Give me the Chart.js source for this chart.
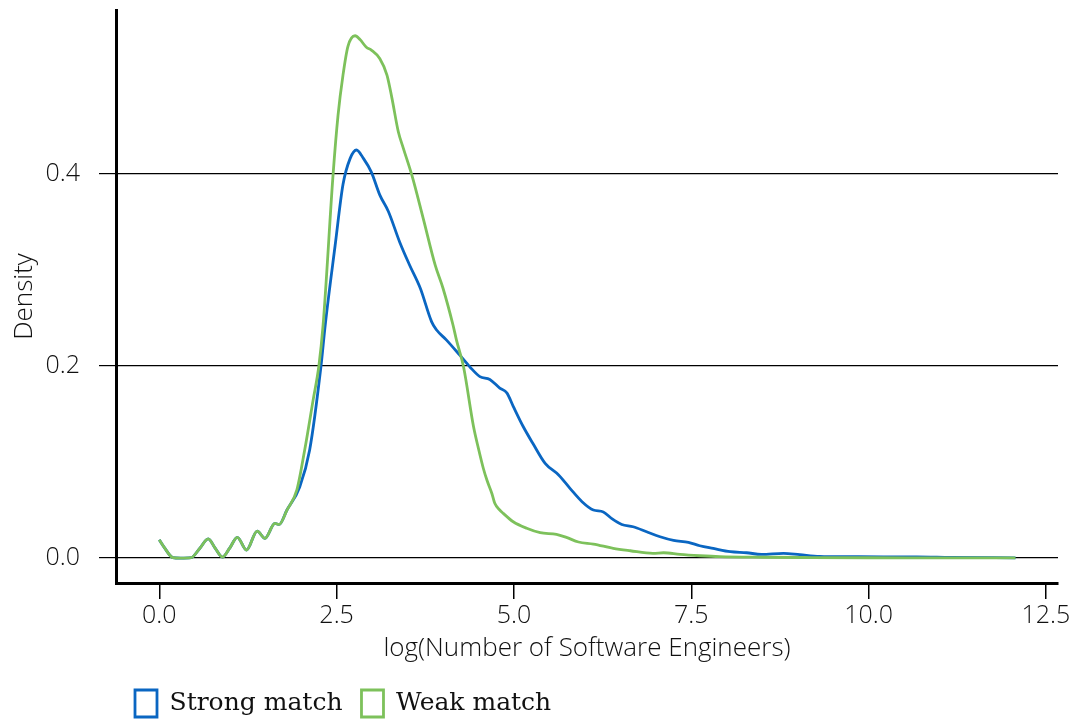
<!DOCTYPE html>
<html>
<head>
<meta charset="utf-8">
<script src="https://cdn.jsdelivr.net/npm/chart.js@4.4.1/dist/chart.umd.min.js"></script>
<style>
  html, body { margin: 0; padding: 0; background: #fff; }
  #wrap { width: 1083px; height: 727px; }
</style>
</head>
<body>
<div id="wrap"><canvas id="c" width="1083" height="727"></canvas></div>
<script>
// Kernel density of log(number of software engineers), by match strength
const strongX = [0.00, 0.08, 0.19, 0.30, 0.45, 0.57, 0.69, 0.79, 0.89, 0.99, 1.10, 1.23, 1.38, 1.49, 1.63, 1.69, 1.80,
  1.98, 2.12, 2.28, 2.34, 2.48, 2.59, 2.69, 2.78, 2.88, 2.99, 3.11, 3.23, 3.39, 3.53, 3.68, 3.84, 3.91, 4.05, 4.24,
  4.38, 4.52, 4.66, 4.80, 4.90, 4.99, 5.13, 5.27, 5.44, 5.63, 5.79, 5.96, 6.12, 6.26, 6.38, 6.52, 6.68, 6.87, 7.06,
  7.25, 7.46, 7.62, 7.81, 8.05, 8.28, 8.49, 8.80, 9.03, 9.31, 9.74, 10.21, 10.68, 11.15, 12.07];
const strongY = [0.019, 0.010, 0.0005, 0.0, 0.0005, 0.010, 0.020, 0.010, 0.001, 0.010, 0.0215, 0.0083, 0.028, 0.0205, 0.036, 0.035, 0.050,
  0.074, 0.1125, 0.200, 0.243, 0.326, 0.389, 0.416, 0.425, 0.416, 0.402, 0.378, 0.361, 0.329, 0.305, 0.281, 0.246, 0.2375, 0.227, 0.211,
  0.199, 0.189, 0.186, 0.177, 0.172, 0.158, 0.137, 0.119, 0.0986, 0.0865, 0.0726, 0.0587, 0.050, 0.048, 0.041, 0.035, 0.0326, 0.0274, 0.0222,
  0.0184, 0.0163, 0.0128, 0.010, 0.0066, 0.0055, 0.0038, 0.0049, 0.0035, 0.0018, 0.0014, 0.0012, 0.0012, 0.0007, 0.0002];

const weakX = [0.00, 0.08, 0.19, 0.30, 0.45, 0.57, 0.69, 0.79, 0.89, 0.99, 1.10, 1.23, 1.38, 1.49, 1.63, 1.69, 1.80,
  1.94, 2.05, 2.17, 2.25, 2.31, 2.45, 2.52, 2.59, 2.66, 2.76, 2.83, 2.92, 2.99, 3.11, 3.21, 3.28, 3.37, 3.44, 3.56,
  3.72, 3.89, 4.00, 4.14, 4.19, 4.29, 4.43, 4.50, 4.57, 4.62, 4.69, 4.73, 4.80, 4.85, 4.99, 5.18, 5.37, 5.60, 5.74,
  5.91, 6.12, 6.40, 6.64, 6.96, 7.11, 7.34, 7.62, 7.90, 8.50, 9.20, 10.00, 11.00, 12.07];
const weakY = [0.019, 0.010, 0.0005, 0.0, 0.0005, 0.010, 0.020, 0.010, 0.001, 0.010, 0.0215, 0.0083, 0.028, 0.0205, 0.036, 0.035, 0.050,
  0.071, 0.1125, 0.165, 0.200, 0.243, 0.399, 0.461, 0.503, 0.533, 0.544, 0.540, 0.532, 0.529, 0.520, 0.503, 0.479, 0.444, 0.427, 0.399,
  0.354, 0.305, 0.281, 0.243, 0.227, 0.199, 0.137, 0.114, 0.093, 0.081, 0.067, 0.057, 0.050, 0.0465, 0.0378, 0.031, 0.0264, 0.0247, 0.0215,
  0.0167, 0.0146, 0.0101, 0.0076, 0.0049, 0.0055, 0.0038, 0.0024, 0.0014, 0.0008, 0.0005, 0.0003, 0.0002, 0.0001];

const seriesNames = ['Strong match', 'Weak match'];
const seriesColors = ['#0a66c2', '#7dc15b'];
const xTicks = [0, 2.5, 5, 7.5, 10, 12.5];
const yTicks = [0, 0.2, 0.4];

const toPoints = (xs, ys) => xs.map((x, i) => ({ x: x, y: ys[i] }));

const sansFamily = "'Open Sans', 'DejaVu Sans', sans-serif";
const tickFont = { family: sansFamily, size: 25, weight: '300' };
const titleFont = { family: sansFamily, size: 26, weight: '300' };
const textColor = '#111';

// keep the plot box fixed: no extra room for edge tick labels
const noEdgePadding = (scale) => {
  scale.paddingTop = 0; scale.paddingBottom = 0;
  scale.paddingLeft = 0; scale.paddingRight = 0;
};

new Chart(document.getElementById('c'), {
  type: 'line',
  data: {
    datasets: [
      {
        label: seriesNames[0],
        data: toPoints(strongX, strongY),
        borderColor: seriesColors[0],
        backgroundColor: 'rgba(0,0,0,0)',
        borderWidth: 2.8,
        pointRadius: 0,
        fill: false,
        cubicInterpolationMode: 'monotone',
        order: 1
      },
      {
        label: seriesNames[1],
        data: toPoints(weakX, weakY),
        borderColor: seriesColors[1],
        backgroundColor: 'rgba(0,0,0,0)',
        borderWidth: 2.8,
        pointRadius: 0,
        fill: false,
        cubicInterpolationMode: 'monotone',
        order: 0
      }
    ]
  },
  options: {
    responsive: false,
    animation: false,
    devicePixelRatio: 1,
    layout: { padding: { left: 0, right: 25, top: 10, bottom: 0 } },
    plugins: {
      tooltip: { enabled: false },
      legend: {
        display: true,
        position: 'bottom',
        align: 'start',
        fullSize: false,
        labels: {
          boxWidth: 22,
          boxHeight: 27,
          padding: 19,
          color: textColor,
          font: { family: "'DejaVu Serif', serif", size: 25 },
          sort: (a, b) => a.datasetIndex - b.datasetIndex
        }
      }
    },
    scales: {
      x: {
        type: 'linear',
        min: -0.61,
        max: 12.67,
        afterBuildTicks: (scale) => { scale.ticks = xTicks.map(v => ({ value: v })); },
        afterFit: (scale) => { scale.height = 88; noEdgePadding(scale); },
        ticks: {
          color: textColor,
          font: tickFont,
          padding: 2,
          maxRotation: 0,
          autoSkip: false,
          callback: (v) => Number(v).toFixed(1)
        },
        grid: {
          drawOnChartArea: false,
          drawTicks: true,
          tickLength: 16,
          color: '#000',
          lineWidth: 1.5
        },
        border: { display: true, color: '#000', width: 3 },
        title: {
          display: true,
          text: 'log(Number of Software Engineers)',
          color: textColor,
          font: titleFont,
          padding: { top: 0, bottom: 7 }
        }
      },
      y: {
        type: 'linear',
        min: -0.026,
        max: 0.5708,
        afterBuildTicks: (scale) => { scale.ticks = yTicks.map(v => ({ value: v })); },
        afterFit: (scale) => { scale.width = 116; noEdgePadding(scale); },
        ticks: {
          color: textColor,
          font: tickFont,
          padding: 19,
          autoSkip: false,
          callback: (v) => Number(v).toFixed(1)
        },
        grid: {
          drawOnChartArea: true,
          drawTicks: true,
          tickLength: 17,
          color: '#000',
          lineWidth: 1.2
        },
        border: { display: true, color: '#000', width: 3 },
        title: {
          display: true,
          text: 'Density',
          color: textColor,
          font: titleFont,
          padding: { top: 9, bottom: 0 }
        }
      }
    }
  }
});
</script>
</body>
</html>
